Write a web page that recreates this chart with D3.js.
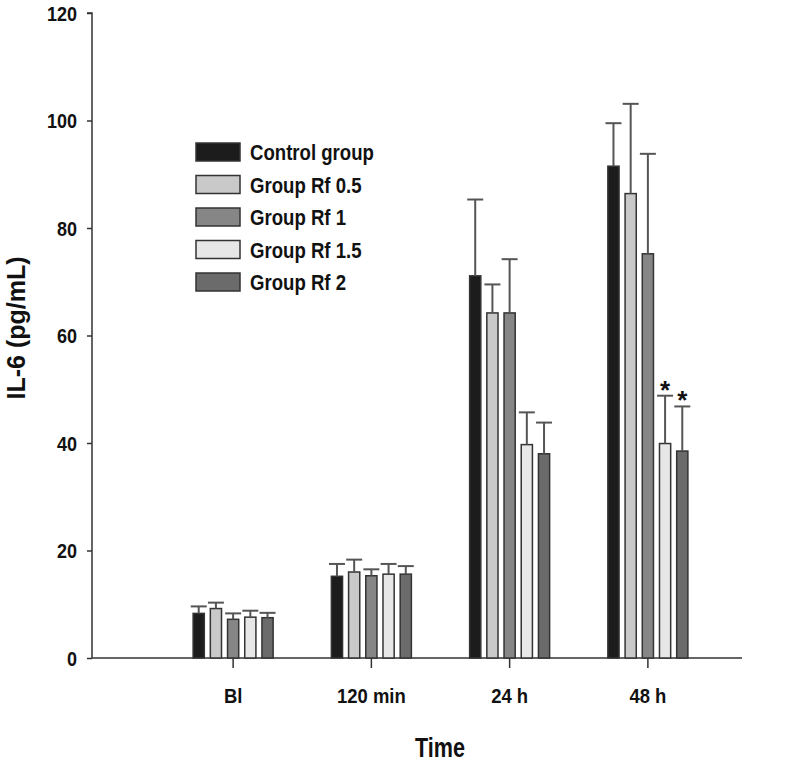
<!DOCTYPE html>
<html>
<head>
<meta charset="utf-8">
<script src="https://cdn.jsdelivr.net/npm/d3@7"></script>
<style>
  html, body { margin: 0; padding: 0; background: #fff; }
  svg { display: block; }
  text { font-family: "Liberation Sans", Arial, sans-serif; font-weight: bold; fill: #111; }
</style>
</head>
<body>
<svg id="chart" width="791" height="763"></svg>
<script>
// ---- data ----
const categories = ["Bl", "120 min", "24 h", "48 h"];
const seriesNames = ["Control group", "Group Rf 0.5", "Group Rf 1", "Group Rf 1.5", "Group Rf 2"];
const controlMean = [8.3, 15.2, 71.1, 91.5];
const rf05Mean    = [9.2, 16.0, 64.2, 86.4];
const rf1Mean     = [7.2, 15.3, 64.2, 75.2];
const rf15Mean    = [7.6, 15.6, 39.7, 39.9];
const rf2Mean     = [7.5, 15.6, 38.0, 38.5];
const controlErr  = [1.3, 2.3, 14.2, 8.0];
const rf05Err     = [1.1, 2.3, 5.3, 16.7];
const rf1Err      = [1.1, 1.2, 10.0, 18.6];
const rf15Err     = [1.2, 1.9, 6.0, 8.9];
const rf2Err      = [0.9, 1.5, 5.8, 8.3];
const significant = [
  [false, false, false, false],
  [false, false, false, false],
  [false, false, false, false],
  [false, false, false, true],
  [false, false, false, true]
];
const yTicks = [0, 20, 40, 60, 80, 100, 120];
const seriesColors = ["#1c1c1c", "#c9c9c9", "#868686", "#e7e7e7", "#6b6b6b"];

const means = [controlMean, rf05Mean, rf1Mean, rf15Mean, rf2Mean];
const errs = [controlErr, rf05Err, rf1Err, rf15Err, rf2Err];

// ---- layout ----
const svg = d3.select("#chart");
const axisX = 92, axisRight = 742, yTop = 13, yBottom = 658;

const y = d3.scaleLinear().domain([0, 120]).range([yBottom, yTop]);
const x = d3.scaleBand().domain(categories).range([164, 717]).paddingInner(0).paddingOuter(0);
const xs = d3.scaleBand().domain(seriesNames).range([-40, 40]).paddingInner(0.35).paddingOuter(0);
const color = d3.scaleOrdinal().domain(seriesNames).range(seriesColors);

function condense(sel, f) {
  sel.each(function () {
    const l = this.getComputedTextLength();
    d3.select(this).attr("textLength", l * f).attr("lengthAdjust", "spacingAndGlyphs");
  });
}

// flat records
const records = [];
seriesNames.forEach((s, si) => {
  categories.forEach((c, ci) => {
    records.push({ series: s, cat: c, mean: means[si][ci], err: errs[si][ci], sig: significant[si][ci] });
  });
});

// ---- y axis ----
const yAxis = d3.axisLeft(y).tickValues(yTicks).tickSize(5).tickPadding(10).tickFormat(d3.format("d"));
const gy = svg.append("g").attr("transform", `translate(${axisX},0)`).call(yAxis);
gy.select(".domain").attr("stroke", "#333").attr("stroke-width", 1.5).attr("d", `M-5,${yTop}H0V${yBottom}`);
gy.selectAll(".tick line").attr("stroke", "#333").attr("stroke-width", 1.5);
gy.selectAll(".tick text").attr("font-size", 20).attr("fill", "#111").attr("dy", "0.36em")
  .style("font-family", '"Liberation Sans", Arial, sans-serif').style("font-weight", "bold")
  .call(condense, 0.9);

// ---- x axis ----
const xAxis = d3.axisBottom(x).tickSize(10).tickPadding(20).tickSizeOuter(0);
const gx = svg.append("g").attr("transform", `translate(0,${yBottom})`).call(xAxis);
gx.select(".domain").attr("stroke", "#333").attr("stroke-width", 1.5).attr("d", `M${axisX},0H${axisRight}`);
gx.selectAll(".tick line").attr("stroke", "#333").attr("stroke-width", 1.5);
gx.selectAll(".tick text").attr("font-size", 21).attr("fill", "#111")
  .style("font-family", '"Liberation Sans", Arial, sans-serif').style("font-weight", "bold")
  .call(condense, 0.88);

// ---- bars ----
const plot = svg.append("g");
plot.selectAll("rect.bar").data(records).join("rect")
  .attr("class", "bar")
  .attr("x", d => x(d.cat) + x.bandwidth() / 2 + xs(d.series))
  .attr("width", xs.bandwidth())
  .attr("y", d => y(d.mean))
  .attr("height", d => y(0) - y(d.mean))
  .attr("fill", d => color(d.series))
  .attr("stroke", "#333")
  .attr("stroke-width", 1.5);

// ---- error bars (upper only) ----
const capHalf = 8;
const eb = plot.selectAll("g.err").data(records).join("g").attr("class", "err")
  .attr("transform", d => `translate(${x(d.cat) + x.bandwidth() / 2 + xs(d.series) + xs.bandwidth() / 2},0)`);
eb.append("line").attr("x1", 0).attr("x2", 0)
  .attr("y1", d => y(d.mean)).attr("y2", d => y(d.mean + d.err))
  .attr("stroke", "#555").attr("stroke-width", 2);
eb.append("line").attr("x1", -capHalf).attr("x2", capHalf)
  .attr("y1", d => y(d.mean + d.err)).attr("y2", d => y(d.mean + d.err))
  .attr("stroke", "#555").attr("stroke-width", 2);

// ---- significance marks ----
plot.selectAll("text.sig").data(records.filter(d => d.sig)).join("text")
  .attr("class", "sig")
  .attr("x", d => x(d.cat) + x.bandwidth() / 2 + xs(d.series) + xs.bandwidth() / 2)
  .attr("y", d => y(d.mean + d.err) + 3)
  .attr("text-anchor", "middle")
  .attr("font-size", 26)
  .attr("fill", "#222")
  .text("*");

// ---- axis titles ----
svg.append("text")
  .attr("transform", `translate(25,328) rotate(-90)`)
  .attr("text-anchor", "middle")
  .attr("font-size", 25)
  .text("IL-6 (pg/mL)");

svg.append("text")
  .attr("x", 440).attr("y", 757)
  .attr("text-anchor", "middle")
  .attr("font-size", 27)
  .text("Time")
  .call(condense, 0.8);

// ---- legend ----
const legend = svg.append("g").attr("transform", "translate(196,152)");
const li = legend.selectAll("g").data(seriesNames).join("g")
  .attr("transform", (d, i) => `translate(0,${i * 32.5})`);
li.append("rect").attr("x", 0).attr("y", -9).attr("width", 44).attr("height", 18)
  .attr("fill", d => color(d)).attr("stroke", "#333").attr("stroke-width", 1.5);
li.append("text").attr("x", 54).attr("y", 8).attr("font-size", 22).text(d => d)
  .call(condense, 0.845);
</script>
</body>
</html>
